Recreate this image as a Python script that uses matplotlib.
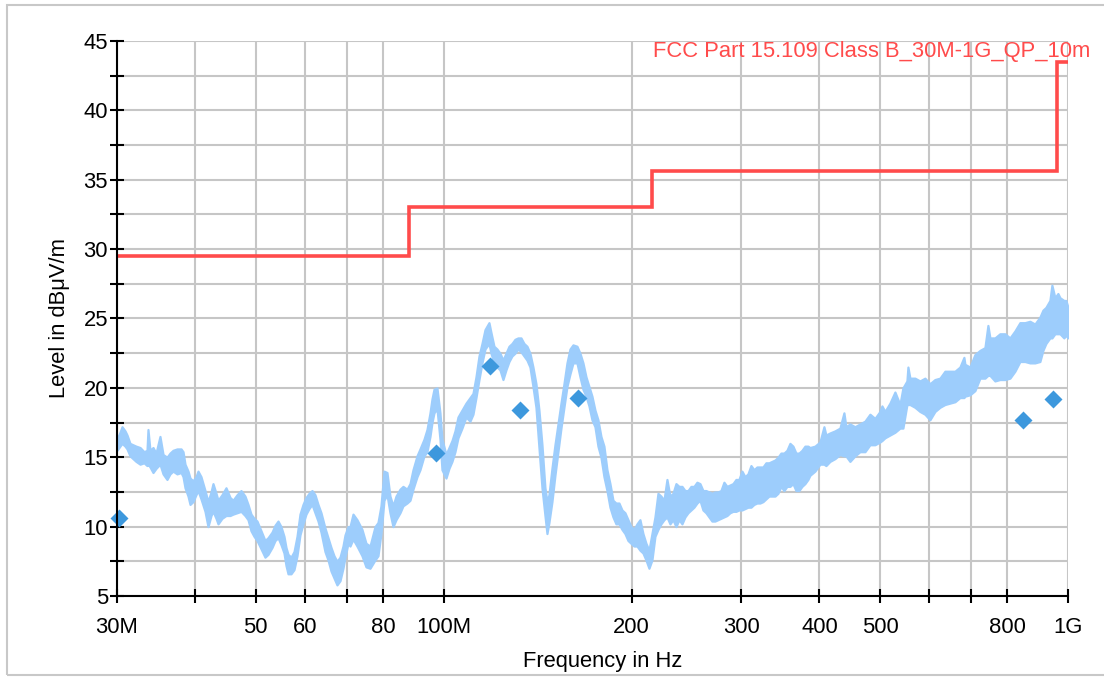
import matplotlib
matplotlib.use("Agg")
import matplotlib.pyplot as plt
from matplotlib.patches import Rectangle
from matplotlib.ticker import FixedLocator, FixedFormatter, NullLocator

plt.rcParams["font.family"] = ["Liberation Sans", "DejaVu Sans"]

# Peak scan trace: frequency (MHz) with min / max level of the noisy sweep (dBuV/m)
trace_mhz = [
    30.0, 30.33, 30.56, 30.90, 31.13, 31.47, 31.82, 32.18, 32.66, 33.14, 33.51, 33.63,
    33.88, 34.26, 34.64, 35.15, 35.55, 36.07, 36.47, 36.88, 37.43, 37.99, 38.27, 38.55,
    38.98, 39.27, 39.70, 40.14, 40.44, 40.89, 41.50, 41.96, 42.43, 42.74, 43.22, 43.54,
    44.18, 44.84, 45.51, 46.01, 46.70, 47.39, 48.09, 48.63, 49.17, 49.72, 50.27, 51.02,
    51.77, 52.35, 53.13, 53.72, 54.32, 54.92, 55.53, 55.94, 56.36, 56.98, 57.62, 58.26,
    58.90, 59.56, 60.22, 60.89, 61.57, 62.25, 62.95, 63.65, 64.59, 65.31, 66.04, 66.77,
    67.51, 68.27, 69.02, 69.54, 70.31, 70.83, 71.62, 72.68, 74.03, 75.13, 76.25, 77.67,
    78.53, 79.40, 80.29, 81.18, 82.08, 83.00, 83.92, 85.17, 86.11, 87.39, 88.37, 89.35,
    90.68, 91.68, 93.05, 94.08, 95.13, 95.83, 96.54, 97.61, 98.70, 99.43, 100.91, 102.03,
    103.16, 104.31, 105.47, 107.04, 108.63, 110.24, 111.47, 112.71, 113.97, 115.23, 116.52, 118.24,
    119.11, 120.44, 121.78, 123.13, 124.50, 125.89, 127.29, 128.70, 130.13, 131.58, 133.05, 134.53,
    136.02, 137.53, 139.06, 140.61, 142.17, 143.76, 145.35, 146.43, 147.51, 149.15, 150.81, 152.49,
    154.19, 155.90, 157.64, 159.39, 161.17, 163.56, 165.38, 167.22, 169.08, 170.96, 172.86, 174.78,
    176.72, 178.69, 180.67, 182.69, 184.72, 186.78, 188.85, 190.95, 193.08, 195.22, 197.40, 199.59,
    201.81, 204.05, 206.32, 208.61, 210.93, 213.29, 215.66, 218.06, 220.48, 222.93, 225.41, 227.92,
    230.45, 233.02, 235.61, 238.23, 240.88, 243.56, 246.27, 249.01, 251.77, 254.57, 257.40, 260.26,
    263.16, 266.08, 269.04, 272.04, 275.06, 278.12, 281.21, 284.35, 287.51, 290.71, 293.94, 297.20,
    300.51, 303.85, 307.23, 310.65, 314.10, 317.60, 321.13, 324.70, 328.32, 331.97, 335.66, 339.39,
    343.16, 346.98, 350.84, 354.74, 358.69, 362.67, 366.71, 370.79, 374.92, 379.09, 383.30, 386.14,
    393.32, 400.64, 406.59, 409.60, 415.68, 423.42, 431.29, 437.70, 440.94, 447.49, 455.82, 464.30,
    472.94, 481.74, 490.70, 499.83, 503.53, 509.13, 518.60, 528.25, 538.08, 544.06, 552.15, 554.19,
    558.29, 568.68, 579.25, 590.03, 601.01, 612.19, 623.58, 635.18, 646.99, 659.03, 671.29, 681.27,
    683.78, 696.51, 709.47, 722.67, 736.12, 744.30, 749.81, 763.76, 777.97, 792.44, 807.18, 822.20,
    837.49, 853.07, 868.95, 885.11, 901.58, 911.60, 921.74, 935.44, 942.36, 952.84, 963.45, 970.58,
    985.00, 992.29, 1000.0,
]
trace_lo = [
    15.5, 15.8, 16.0, 15.8, 15.6, 15.1, 14.9, 14.7, 14.5, 14.6, 14.4, 14.5,
    14.3, 13.9, 14.2, 14.5, 13.8, 13.4, 13.8, 14.0, 13.8, 13.9, 13.6, 12.8,
    12.2, 11.6, 11.8, 12.3, 12.6, 12.0, 11.1, 10.0, 10.8, 11.1, 10.6, 10.2,
    10.6, 10.8, 10.8, 10.9, 11.0, 11.1, 10.8, 10.5, 9.7, 9.3, 9.0, 8.4,
    7.8, 8.0, 8.5, 9.0, 9.2, 8.7, 8.1, 7.2, 6.6, 6.6, 6.9, 7.9,
    9.4, 10.2, 10.9, 11.3, 11.6, 11.0, 10.4, 9.6, 8.2, 7.6, 6.8, 6.3,
    5.8, 6.1, 7.0, 7.8, 8.8, 8.6, 9.1, 8.6, 7.9, 7.1, 7.0, 7.6,
    7.9, 9.5, 11.9, 12.3, 11.0, 10.0, 10.5, 11.0, 11.5, 11.7, 11.9, 12.7,
    13.6, 14.1, 15.1, 15.4, 16.5, 17.5, 18.2, 18.5, 16.3, 14.1, 13.5, 14.2,
    14.7, 15.4, 16.4, 17.1, 17.9, 17.6, 18.1, 19.3, 20.6, 21.8, 22.8, 23.2,
    22.5, 21.8, 21.5, 21.3, 20.6, 21.3, 21.9, 22.3, 22.5, 22.8, 22.6, 22.3,
    22.0, 21.5, 20.1, 18.6, 15.7, 12.8, 10.8, 9.5, 10.3, 11.8, 13.7, 15.4,
    17.1, 18.6, 20.1, 21.0, 21.8, 21.8, 20.8, 19.9, 19.4, 18.7, 17.7, 17.2,
    15.8, 15.0, 13.6, 12.6, 11.4, 10.7, 10.2, 10.2, 9.8, 9.5, 9.0, 8.8,
    8.6, 8.6, 8.3, 8.1, 7.6, 7.0, 7.6, 9.3, 9.8, 10.2, 10.5, 10.7,
    10.2, 10.5, 10.0, 10.5, 10.2, 10.7, 11.0, 11.2, 11.4, 11.7, 11.9, 11.2,
    11.0, 10.7, 10.4, 10.4, 10.5, 10.6, 10.7, 10.8, 11.0, 11.1, 11.1, 11.2,
    11.2, 11.3, 11.4, 11.4, 11.6, 11.7, 11.7, 11.8, 12.0, 12.2, 12.2, 12.2,
    12.4, 12.9, 12.6, 12.9, 12.9, 13.1, 12.6, 12.6, 12.9, 13.1, 13.4, 13.7,
    14.0, 14.5, 14.5, 14.4, 14.7, 14.9, 15.2, 15.1, 15.1, 14.7, 15.1, 15.4,
    15.4, 15.9, 15.9, 16.1, 16.2, 16.4, 16.6, 16.8, 17.1, 17.1, 18.8, 18.8,
    18.8, 18.6, 18.3, 18.1, 17.7, 18.3, 18.6, 18.8, 18.9, 19.0, 19.3, 19.3,
    19.4, 19.5, 19.8, 20.7, 20.7, 20.9, 20.9, 20.5, 20.6, 20.6, 20.7, 21.2,
    21.9, 21.9, 21.8, 21.8, 21.9, 22.7, 23.2, 23.6, 23.6, 23.9, 23.9, 23.9,
    23.6, 23.8, 23.6,
]
trace_hi = [
    16.3, 16.8, 17.2, 16.9, 16.6, 16.0, 15.9, 15.8, 15.7, 15.4, 15.5, 17.0,
    15.5, 15.7, 15.3, 16.5, 15.2, 15.0, 15.3, 15.5, 15.6, 15.6, 15.4, 14.5,
    14.0, 13.5, 13.3, 13.6, 14.0, 13.6, 12.6, 11.8, 12.5, 13.1, 12.4, 11.9,
    12.3, 12.8, 12.1, 11.9, 12.3, 12.6, 12.2, 11.6, 10.9, 10.6, 10.4, 9.7,
    9.0, 9.2, 9.6, 10.1, 10.4, 10.0, 9.3, 8.5, 8.0, 7.8, 8.2, 9.3,
    10.9, 11.6, 12.1, 12.4, 12.6, 12.3, 11.6, 11.0, 9.9, 9.2, 8.5, 7.9,
    7.5, 7.8, 8.6, 9.4, 10.0, 10.0, 10.9, 10.5, 9.8, 8.8, 8.6, 10.0,
    10.3, 11.5, 14.0, 13.9, 12.2, 11.5, 12.2, 12.7, 12.9, 12.7, 13.1, 14.1,
    15.1, 15.6, 16.3, 17.0, 18.2, 19.2, 19.9, 20.0, 18.2, 16.3, 15.2, 15.7,
    16.2, 16.9, 17.9, 18.4, 18.9, 19.3, 19.6, 20.8, 22.3, 23.2, 24.2, 24.7,
    24.0, 23.0, 22.8, 22.5, 22.0, 22.5, 23.0, 23.2, 23.5, 23.6, 23.6, 23.2,
    23.0, 22.5, 21.5, 20.3, 18.4, 15.9, 12.8, 11.8, 12.3, 14.2, 15.9, 17.4,
    18.9, 20.3, 21.8, 22.8, 23.1, 23.0, 22.5, 21.8, 20.8, 20.1, 19.4, 18.4,
    17.7, 16.5, 15.8, 14.1, 13.1, 11.9, 11.7, 11.7, 11.2, 11.0, 10.5, 10.0,
    9.8, 10.2, 10.5, 9.5, 8.8, 8.3, 9.5, 10.7, 12.4, 12.2, 11.9, 13.4,
    12.2, 12.4, 13.1, 12.9, 12.9, 12.6, 12.6, 12.9, 12.9, 13.2, 13.1, 12.6,
    12.6, 12.5, 12.4, 12.5, 12.5, 12.6, 13.2, 12.9, 13.0, 13.1, 13.4, 13.4,
    14.0, 13.6, 13.8, 14.4, 14.1, 14.3, 14.3, 14.3, 14.6, 14.6, 14.7, 14.8,
    15.0, 15.3, 15.3, 15.5, 16.0, 15.8, 15.3, 15.3, 15.5, 15.8, 15.8, 15.7,
    15.8, 16.1, 17.2, 16.6, 16.75, 16.9, 17.1, 18.2, 17.2, 17.4, 17.2, 17.4,
    17.6, 18.1, 17.8, 18.3, 18.7, 18.3, 18.9, 19.7, 18.8, 20.0, 20.5, 21.5,
    20.7, 20.7, 20.5, 20.7, 20.3, 20.6, 20.7, 21.2, 21.2, 21.2, 21.5, 22.2,
    21.7, 21.5, 22.4, 22.7, 22.9, 24.5, 23.6, 23.6, 23.9, 23.9, 23.6, 24.1,
    24.7, 24.7, 24.8, 24.6, 25.1, 25.6, 25.8, 26.3, 27.4, 26.5, 26.8, 26.5,
    26.3, 26.3, 25.8,
]

# Quasi-peak final measurements
qp_mhz = [30.2, 97.2, 118.7, 132.5, 164.3, 846.8, 945.8]
qp_db = [10.6, 15.3, 21.6, 18.4, 19.3, 17.7, 19.2]

# FCC Part 15.109 Class B limit at 10 m (band edges in MHz, level per band)
limit_edges_mhz = [30, 88, 216, 960, 1000]
limit_db = [29.5, 33.0, 35.6, 43.5]
limit_name = "FCC Part 15.109 Class B_30M-1G_QP_10m"

x_ticks = [30, 40, 50, 60, 70, 80, 100, 200, 300, 400, 500, 600, 700, 800, 1000]
x_tick_labels = ["30M", "", "50", "60", "", "80", "100M", "200", "300", "400", "500",
                 "", "", "800", "1G"]
y_major = [5, 10, 15, 20, 25, 30, 35, 40, 45]
y_minor = [7.5, 12.5, 17.5, 22.5, 27.5, 32.5, 37.5, 42.5]

W, H = 1104, 677
fig = plt.figure(figsize=(W / 100, H / 100), dpi=100)
ax = fig.add_axes([117 / W, 1 - 596 / H, (1068 - 117) / W, (596 - 41) / H])

trace_color = "#9dcdfc"
ax.fill_between(trace_mhz, trace_lo, trace_hi, color=trace_color,
                edgecolor=trace_color, lw=1.6, zorder=2)
ax.stairs(limit_db, limit_edges_mhz, color="#ff4b4b", lw=2.6, baseline=None, zorder=3)
ax.plot(qp_mhz, qp_db, ls="none", marker="D", ms=9.2, mec="none",
        color="#3d98dd", zorder=4, clip_on=False)

ax.set_xscale("log")
ax.set_xlim(30, 1000)
ax.set_ylim(5, 45)
ax.xaxis.set_major_locator(FixedLocator(x_ticks))
ax.xaxis.set_major_formatter(FixedFormatter(x_tick_labels))
ax.xaxis.set_minor_locator(NullLocator())
ax.yaxis.set_major_locator(FixedLocator(y_major))
ax.yaxis.set_minor_locator(FixedLocator(y_minor))

ax.grid(True, which="both", color="#c6c6c6", lw=1.5)
ax.set_axisbelow(True)
for side in ("top", "right"):
    ax.spines[side].set_visible(False)
for side in ("left", "bottom"):
    ax.spines[side].set_linewidth(1.5)
    ax.spines[side].set_zorder(5)

fs = 15.8
ax.tick_params(axis="both", which="both", direction="inout", length=10.5, width=1.5,
               labelsize=fs, color="black")
ax.tick_params(axis="y", which="both", pad=1.2)
ax.tick_params(axis="x", which="both", pad=10)

fig.text(59 / W, 1 - 317.5 / H, "Level in dBμV/m", rotation=90, ha="center",
         va="center", fontsize=fs)
fig.text(603 / W, 1 - 662 / H, "Frequency in Hz", ha="center", va="center",
         fontsize=fs)
fig.text(1090 / W, 1 - 57 / H, limit_name, ha="right", va="baseline",
         fontsize=fs, color="#ff4b4b")

fig.patches.append(Rectangle((7 / W, 2 / H), 1.2, 670 / H, transform=fig.transFigure,
                             fill=False, ec="#c8c8c8", lw=1.5))

fig.savefig("out.png", dpi=100)
